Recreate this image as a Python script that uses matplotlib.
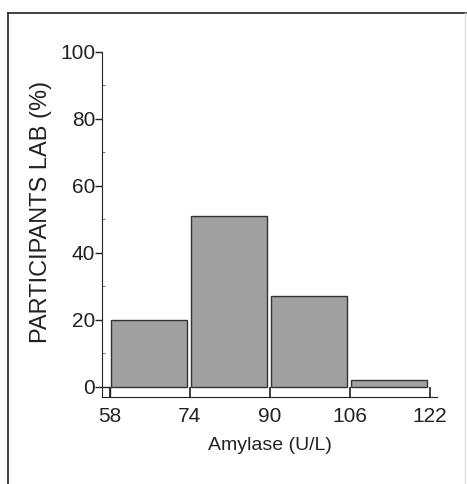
import matplotlib.pyplot as plt
from matplotlib.ticker import MultipleLocator

bin_edges = [58, 74, 90, 106, 122]
percent = [20, 51, 27, 2]
xticks = [58, 74, 90, 106, 122]
yticks = [0, 20, 40, 60, 80, 100]

plt.rcParams['font.family'] = ['Liberation Sans', 'DejaVu Sans']

fig = plt.figure(figsize=(4.67, 4.84), dpi=100)
ax = fig.add_axes([0.2184, 0.1798, 0.7174, 0.7128])

# bars, with a small white gap between neighbours
lefts = [e + 0.2 for e in bin_edges[:-1]]
widths = [bin_edges[i + 1] - bin_edges[i] - 0.8 for i in range(len(percent))]
ax.bar(lefts, percent, width=widths, align='edge', color='#a0a0a0',
       edgecolor='#333333', linewidth=1.0)

ax.set_xlim(56.4, 123.4)
ax.set_ylim(-3, 100)
ax.set_xticks(xticks)
ax.set_yticks(yticks)
ax.yaxis.set_minor_locator(MultipleLocator(10))

ax.spines['top'].set_visible(False)
ax.spines['right'].set_visible(False)
ax.spines['left'].set_color('#222222')
ax.spines['bottom'].set_color('#222222')
ax.spines['left'].set_bounds(-3, 100)
ax.spines['bottom'].set_bounds(56.4, 123.4)

ax.tick_params(axis='x', direction='in', length=7, width=1.2, labelsize=15,
               pad=7, colors='#222222')
ax.tick_params(axis='y', direction='out', length=5, width=1.0, labelsize=15,
               pad=0, colors='#222222')
ax.tick_params(axis='y', which='minor', direction='in', length=2, width=0.8,
               colors='#777777')

# little baseline stub at the origin
ax.hlines(0, 56.4, 58, color='#222222', linewidth=1.0)
ax.vlines(58, -3, 0, color='#222222', linewidth=1.0)

ax.set_xlabel('Amylase (U/L)', fontsize=14, labelpad=8, color='#222222')
ax.set_ylabel('PARTICIPANTS LAB (%)', fontsize=17, color='#222222')
ax.yaxis.set_label_coords(-0.15, 0.536)

# scanned frame around the figure
fig.add_artist(plt.Line2D([0.017, 0.017], [0.0, 0.973], color='#222222',
                          linewidth=1.2, transform=fig.transFigure))
fig.add_artist(plt.Line2D([0.017, 1.0], [0.973, 0.973], color='#222222',
                          linewidth=1.2, transform=fig.transFigure))
fig.add_artist(plt.Line2D([0.995, 0.995], [0.0, 0.973], color='#dddddd',
                          linewidth=1.0, transform=fig.transFigure))

fig.savefig('out.png', dpi=100)
